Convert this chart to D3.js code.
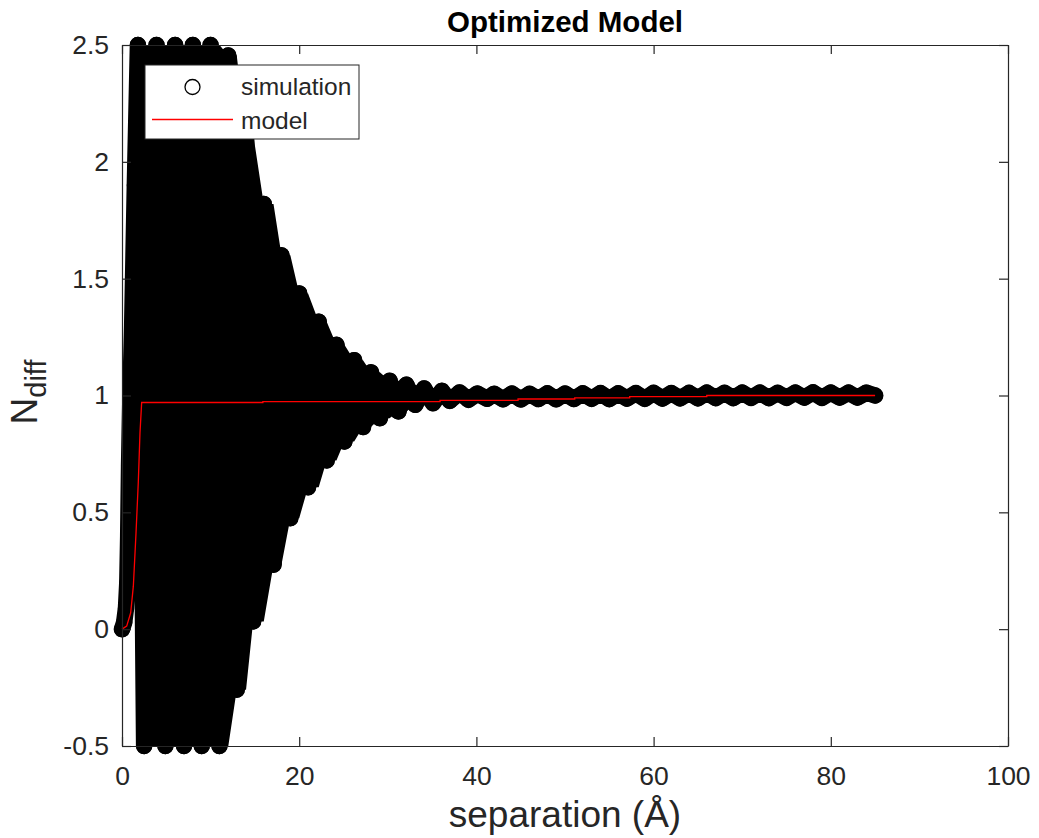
<!DOCTYPE html>
<html>
<head>
<meta charset="utf-8">
<script src="https://cdn.jsdelivr.net/npm/d3@7"></script>
<style>
  html, body { margin: 0; padding: 0; background: #fff; }
  svg { display: block; }
  text { font-family: "Liberation Sans", Arial, Helvetica, sans-serif; fill: #262626; }
</style>
</head>
<body>
<svg id="chart" width="1039" height="838"></svg>
<script>
// Simulation: N_diff against separation.
// Initial rise from zero separation.
const riseX = [0, 0.25, 0.45, 0.6, 0.7, 0.8, 0.95, 1.15, 1.45];
const riseY = [0, 0.03, 0.09, 0.2, 0.4, 0.7, 1.0, 1.3, 1.9];
// Local maxima of the oscillation (held at the axis limit where it runs off-scale).
const peakX = [1.8, 3.9, 6.0, 8.0, 10.0, 12.0, 14.0, 16.0, 18.0, 20.0, 22.2, 24.2,
  26.2, 28.1, 30.2, 32.1, 34.1, 36.1, 38.1, 40.1, 42.0, 44.0, 46.0, 48.0, 50.0,
  52.0, 54.0, 56.0, 58.0, 60.0, 62.0, 64.0, 66.0, 68.0, 70.0, 72.0, 74.0, 76.0,
  78.0, 80.0, 82.0, 84.0];
const peakY = [2.5, 2.5, 2.5, 2.5, 2.5, 2.455, 2.12, 1.82, 1.60, 1.437, 1.316, 1.217,
  1.151, 1.099, 1.063, 1.046, 1.030, 1.020, 1.013, 1.008, 1.007, 1.008, 1.007, 1.009, 1.008,
  1.009, 1.010, 1.009, 1.010, 1.011, 1.010, 1.011, 1.012, 1.011, 1.012, 1.012, 1.011, 1.012,
  1.013, 1.012, 1.012, 1.012];
// Local minima of the oscillation.
const troughX = [2.5, 4.9, 7.0, 9.0, 11.0, 12.95, 14.8, 17.1, 19.0, 21.0, 23.1, 25.1,
  27.2, 29.1, 31.2, 33.1, 35.1, 37.0, 39.1, 41.2, 43.0, 45.0, 47.0, 49.0, 51.0,
  53.0, 55.0, 57.0, 59.0, 61.0, 63.0, 65.0, 67.0, 69.0, 71.0, 73.0, 75.0, 77.0,
  79.0, 81.0, 83.0, 85.0];
const troughY = [-0.5, -0.5, -0.5, -0.5, -0.5, -0.259, 0.033, 0.276, 0.475, 0.607, 0.722, 0.803,
  0.865, 0.903, 0.932, 0.960, 0.967, 0.977, 0.982, 0.986, 0.984, 0.983, 0.985, 0.984, 0.985,
  0.986, 0.985, 0.987, 0.986, 0.987, 0.988, 0.988, 0.989, 0.989, 0.990, 0.989, 0.990, 0.991,
  0.990, 0.991, 0.991, 1.000];

// Fitted model curve.
const modelX = [0, 0.53, 0.98, 1.28, 1.58, 1.84, 2.03, 2.22, 15.9, 15.9, 35.9, 35.9,
  44.7, 44.7, 51.1, 51.1, 57.3, 57.3, 66.0, 66.0, 85.0];
const modelY = [0, 0.013, 0.07, 0.184, 0.41, 0.63, 0.84, 0.970, 0.970, 0.974, 0.974, 0.979,
  0.979, 0.985, 0.985, 0.990, 0.990, 0.995, 0.995, 1.000, 1.000];

const xTicks = [0, 20, 40, 60, 80, 100];
const yTicks = [-0.5, 0, 0.5, 1, 1.5, 2, 2.5];
const seriesNames = ["simulation", "model"];

const svg = d3.select("#chart");
const plotL = 122, plotR = 1008, plotT = 45, plotB = 746;
const x = d3.scaleLinear().domain([0, 100]).range([plotL, plotR]);
const y = d3.scaleLinear().domain([-0.5, 2.5]).range([plotB, plotT]);

const axisColor = "#262626";
const tickFont = 26.5;
const labelFont = 37;
const markerW = 16.5;

const pts = (xs, ys) => xs.map((d, i) => [d, ys[i]]);
const risePts = pts(riseX, riseY);
const peakPts = pts(peakX, peakY);
const troughPts = pts(troughX, troughY);
// Full sequence in order of separation
const simPts = risePts.concat(d3.sort(peakPts.concat(troughPts), d => d[0]));

const line = d3.line().x(d => x(d[0])).y(d => y(d[1]));

// Region swept by the oscillation: each maximum holds until the following
// minimum, each minimum holds until the following maximum.
const upper = [];
peakPts.forEach((p, i) => {
  upper.push(p);
  if (troughPts[i]) upper.push([troughPts[i][0], p[1]]);
});
const lower = [];
troughPts.forEach((t, i) => {
  lower.push(t);
  if (peakPts[i + 1]) lower.push([peakPts[i + 1][0], t[1]]);
});

// Densely packed open-circle markers merge into a solid band.
svg.append("path")
  .attr("d", line(upper.concat(lower.slice().reverse())) + "Z")
  .attr("fill", "#000").attr("stroke", "none");
svg.append("path")
  .attr("d", line(simPts))
  .attr("fill", "none")
  .attr("stroke", "#000")
  .attr("stroke-width", markerW)
  .attr("stroke-linejoin", "round")
  .attr("stroke-linecap", "round");
svg.append("g").selectAll("circle").data(simPts).join("circle")
  .attr("cx", d => x(d[0])).attr("cy", d => y(d[1]))
  .attr("r", 7.5).attr("fill", "none").attr("stroke", "#000").attr("stroke-width", 1.3);

// Model line
svg.append("path")
  .attr("d", line(pts(modelX, modelY)))
  .attr("fill", "none")
  .attr("stroke", "#ff0000")
  .attr("stroke-width", 1.3);

// Axes, ticks pointing inward on all four sides
function styleAxis(g) {
  g.selectAll("path.domain").attr("stroke", axisColor).attr("stroke-width", 1.2);
  g.selectAll(".tick line").attr("stroke", axisColor).attr("stroke-width", 1.2);
  g.selectAll(".tick text").attr("fill", axisColor)
    .style("font-size", tickFont + "px")
    .style("font-family", '"Liberation Sans", Arial, sans-serif');
}
svg.append("g").attr("transform", `translate(0,${plotB})`)
  .call(d3.axisBottom(x).tickValues(xTicks).tickFormat(d3.format("d"))
    .tickSizeInner(-9).tickSizeOuter(0).tickPadding(20))
  .call(styleAxis);
svg.append("g").attr("transform", `translate(0,${plotT})`)
  .call(d3.axisTop(x).tickValues(xTicks).tickFormat("")
    .tickSizeInner(-9).tickSizeOuter(0))
  .call(styleAxis);
svg.append("g").attr("transform", `translate(${plotL},0)`)
  .call(d3.axisLeft(y).tickValues(yTicks).tickFormat(d => String(d))
    .tickSizeInner(-9).tickSizeOuter(0).tickPadding(13))
  .call(styleAxis);
svg.append("g").attr("transform", `translate(${plotR},0)`)
  .call(d3.axisRight(y).tickValues(yTicks).tickFormat("")
    .tickSizeInner(-9).tickSizeOuter(0))
  .call(styleAxis);

// Title and axis labels
svg.append("text")
  .attr("x", (plotL + plotR) / 2).attr("y", 32)
  .attr("text-anchor", "middle")
  .style("font-size", "29.5px").style("font-weight", "bold").style("fill", "#000")
  .text("Optimized Model");
svg.append("text")
  .attr("x", (plotL + plotR) / 2).attr("y", 827)
  .attr("text-anchor", "middle")
  .style("font-size", labelFont + "px")
  .text("separation (Å)");
const yl = svg.append("text")
  .attr("transform", `translate(37,392) rotate(-90)`)
  .attr("text-anchor", "middle")
  .style("font-size", labelFont + "px");
yl.append("tspan").text("N");
yl.append("tspan").attr("dy", 9).style("font-size", "29px").text("diff");

// Legend
const lg = svg.append("g");
lg.append("rect").attr("x", 145).attr("y", 65).attr("width", 214).attr("height", 74)
  .attr("fill", "#fff").attr("stroke", axisColor).attr("stroke-width", 1);
lg.append("circle").attr("cx", 192.5).attr("cy", 87).attr("r", 7.5)
  .attr("fill", "none").attr("stroke", "#000").attr("stroke-width", 1.3);
lg.append("line").attr("x1", 152).attr("x2", 233).attr("y1", 119.5).attr("y2", 119.5)
  .attr("stroke", "#ff0000").attr("stroke-width", 1.3);
lg.selectAll("text.lab").data(seriesNames).join("text")
  .attr("class", "lab")
  .attr("x", 241).attr("y", (d, i) => 95 + i * 33.5)
  .style("font-size", "24.5px")
  .text(d => d);
</script>
</body>
</html>
